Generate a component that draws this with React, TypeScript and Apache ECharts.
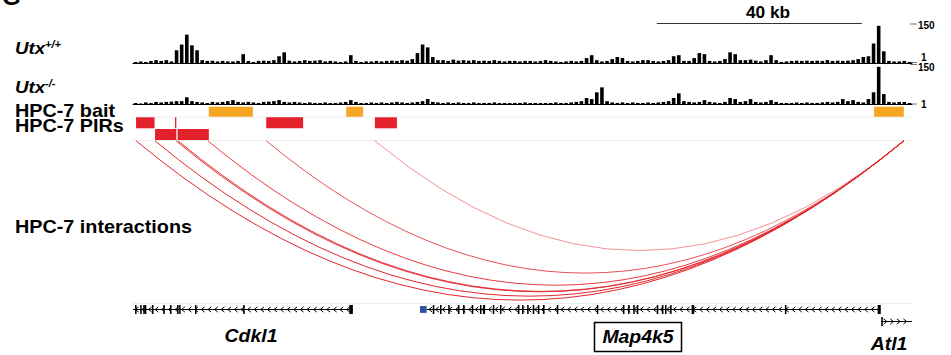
import React, { useEffect, useRef } from "react";
import * as echarts from "echarts";

// ---------- DATA ----------
// ChIP coverage, 1 kb bins across the locus (0 - 152 kb), scale 1..150
const utxWT = [
  4, 6, 4, 8, 11, 8, 11, 6, 49, 71, 109, 68, 49, 11, 8, 9, 6, 8, 6, 6,
  8, 34, 8, 4, 8, 9, 8, 11, 26, 41, 9, 6, 8, 11, 8, 9, 11, 6, 8, 6,
  4, 6, 30, 8, 4, 6, 6, 8, 6, 8, 9, 8, 11, 9, 15, 38, 71, 60, 23, 11,
  11, 8, 13, 9, 11, 9, 11, 8, 9, 8, 11, 8, 6, 8, 8, 6, 8, 8, 6, 8,
  11, 8, 6, 4, 6, 8, 6, 8, 19, 30, 11, 6, 8, 15, 23, 19, 8, 6, 8, 11,
  11, 8, 6, 8, 11, 26, 30, 8, 8, 19, 38, 34, 8, 6, 8, 15, 41, 34, 11, 11,
  13, 9, 6, 11, 30, 11, 4, 6, 8, 9, 8, 9, 8, 9, 8, 11, 8, 9, 8, 9,
  11, 15, 23, 26, 75, 143, 45, 8, 6, 6, 8, 4,
];
const utxKO = [
  4, 2, 6, 4, 8, 6, 8, 9, 11, 11, 26, 11, 8, 6, 4, 8, 6, 8, 11, 15,
  8, 6, 8, 6, 4, 8, 9, 11, 15, 8, 6, 8, 6, 4, 6, 4, 4, 6, 4, 4,
  6, 8, 15, 8, 4, 4, 6, 4, 6, 4, 6, 8, 6, 4, 6, 8, 11, 19, 8, 6,
  4, 6, 4, 6, 4, 4, 6, 4, 4, 4, 6, 4, 4, 4, 4, 4, 6, 4, 4, 4,
  4, 4, 6, 4, 4, 6, 8, 11, 23, 19, 45, 64, 11, 6, 4, 6, 4, 6, 4, 4,
  6, 4, 6, 8, 11, 23, 41, 11, 8, 6, 8, 15, 8, 6, 4, 8, 23, 19, 8, 11,
  19, 8, 6, 8, 15, 8, 4, 4, 4, 6, 4, 6, 4, 4, 6, 8, 6, 8, 19, 11,
  15, 8, 6, 19, 45, 143, 38, 8, 6, 8, 8, 4,
];
const trackLabels = ["Utx", "Utx"];
const trackSup = ["+/+", "-/-"];
const trackTickLabels = ["150", "1"];

// Capture HiC features (kb)
const baitStart = [14.8, 41.6, 144.6];
const baitEnd = [23.4, 44.9, 150.4];
const pirStart = [0.6, 8.2, 26.0, 47.2, 4.3, 8.7];
const pirEnd = [4.2, 8.45, 33.2, 51.5, 8.45, 14.8];
const pirRow = [0, 0, 0, 0, 1, 1];
const interactionStart = [0.6, 4.3, 8.4, 8.8, 14.6, 26.0, 47.2];
const interactionEnd = [150.4, 150.4, 150.4, 150.4, 150.4, 150.4, 150.4];
const interactionScore = [1, 1, 0.95, 0.9, 0.9, 0.8, 0.5];

// Genes (kb)
const geneNames = ["Cdkl1", "Map4k5", "Atl1"];
const geneStart = [0.0, 57.3, 146.0];
const geneEnd = [42.9, 145.9, 152.0];
const geneStrand = [-1, -1, 1];
const geneRow = [0, 0, 1];
const exonPos = [
  0.4, 1.4, 2.0, 2.3, 3.7, 5.9, 7.2, 8.6, 9.0, 12.1, 21.5, 42.2,
  58.5, 59.9, 61.5, 63.4, 64.4, 66.1, 67.7, 68.3, 70.2, 71.6, 75.1, 75.9,
  76.9, 78.0, 79.0, 80.0, 82.7, 90.5, 95.6, 96.6, 97.6, 98.3, 102.2, 103.2,
  103.8, 104.8, 109.0, 127.2, 145.3, 146.0,
];
const exonWidth = [
  0.3, 0.3, 0.3, 0.3, 0.3, 0.3, 0.3, 0.3, 0.3, 0.3, 0.3, 0.7,
  0.3, 0.3, 0.3, 0.3, 0.3, 0.3, 0.3, 0.4, 0.3, 0.3, 0.3, 0.3,
  0.3, 0.3, 0.3, 0.3, 0.3, 0.3, 0.3, 0.3, 0.3, 0.3, 0.3, 0.3,
  0.3, 0.3, 0.5, 0.3, 0.6, 0.3,
];
const exonRow = [
  0, 0, 0, 0, 0, 0, 0, 0, 0, 0, 0, 0,
  0, 0, 0, 0, 0, 0, 0, 0, 0, 0, 0, 0,
  0, 0, 0, 0, 0, 0, 0, 0, 0, 0, 0, 0,
  0, 0, 0, 0, 0, 1,
];
const utrStart = [56.0];
const utrEnd = [57.3];

const scaleBarLabel = "40 kb";
const scaleBarKb = [102.2, 142.2];

// ---------- STYLE ----------
const FONT = "'Liberation Sans', Arial, Helvetica, sans-serif";
const LEFT = 133;
const RIGHT = 951 - 912;
const FEAT_TOP = 105;
const ORANGE = "#F5A623";
const RED = "#E3212A";
const ARC = "#E3262B";
const BLUE = "#2F4E9E";

const rowY = { bait: [1.7, 11.7], pir: [[12.3, 23.3], [24, 35]] };
const arcY = 35.8;
const geneY = [204.5, 216.5];

export default function App() {
  const ref = useRef<HTMLDivElement>(null);

  useEffect(() => {
    if (!ref.current) return;
    const chart = echarts.init(ref.current, null, { renderer: "svg", width: 951, height: 355 });
    const binCats = utxWT.map((_, i) => String(i));

    const trackAxisX = (gi: number) => ({
      gridIndex: gi,
      type: "category",
      data: binCats,
      boundaryGap: true,
      axisLine: { show: true, onZero: false, lineStyle: { color: "#000", width: 1 } },
      axisTick: { show: false },
      axisLabel: { show: false },
      splitLine: { show: false },
    });

    const option: any = {
      animation: false,
      backgroundColor: "#fff",
      grid: [
        { left: LEFT, right: RIGHT, top: 24, height: 39 },
        { left: LEFT, right: RIGHT, top: 65, height: 39 },
        { left: LEFT, right: RIGHT, top: FEAT_TOP, height: 250 },
      ],
      xAxis: [
        trackAxisX(0),
        trackAxisX(1),
        { gridIndex: 2, type: "value", min: 0, max: 152, show: false },
      ],
      yAxis: [
        { gridIndex: 0, type: "value", min: 0, max: 150, show: false },
        { gridIndex: 1, type: "value", min: 0, max: 150, show: false },
        { gridIndex: 2, type: "value", min: 0, max: 250, inverse: true, show: false },
      ],
      series: [
        {
          type: "bar", xAxisIndex: 0, yAxisIndex: 0, data: utxWT,
          barCategoryGap: "30%", itemStyle: { color: "#000" }, silent: true,
        },
        {
          type: "bar", xAxisIndex: 1, yAxisIndex: 1, data: utxKO,
          barCategoryGap: "30%", itemStyle: { color: "#000" }, silent: true,
        },
        // baits
        {
          type: "custom", xAxisIndex: 2, yAxisIndex: 2, silent: true,
          data: baitStart.map((s, i) => [s, baitEnd[i]]),
          renderItem: (_p: any, api: any) => {
            const a = api.coord([api.value(0), rowY.bait[0]]);
            const b = api.coord([api.value(1), rowY.bait[1]]);
            return { type: "rect", shape: { x: a[0], y: a[1], width: b[0] - a[0], height: b[1] - a[1] }, style: { fill: ORANGE } };
          },
        },
        // PIRs
        {
          type: "custom", xAxisIndex: 2, yAxisIndex: 2, silent: true,
          data: pirStart.map((s, i) => [s, pirEnd[i], pirRow[i]]),
          renderItem: (_p: any, api: any) => {
            const r = rowY.pir[api.value(2)];
            const a = api.coord([api.value(0), r[0]]);
            const b = api.coord([api.value(1), r[1]]);
            return { type: "rect", shape: { x: a[0], y: a[1], width: Math.max(1, b[0] - a[0]), height: b[1] - a[1] }, style: { fill: RED } };
          },
        },
        // interactions
        {
          type: "lines", coordinateSystem: "cartesian2d", xAxisIndex: 2, yAxisIndex: 2, silent: true,
          data: interactionStart.map((s, i) => ({
            coords: [[interactionEnd[i], arcY], [s, arcY]],
            lineStyle: { opacity: interactionScore[i] },
          })),
          lineStyle: { color: ARC, width: 1, curveness: 0.415 },
        },
        // gene bodies with strand chevrons
        {
          type: "custom", xAxisIndex: 2, yAxisIndex: 2, silent: true,
          data: geneStart.map((s, i) => [s, geneEnd[i], geneStrand[i], geneRow[i]]),
          renderItem: (_p: any, api: any) => {
            const y = geneY[api.value(3)];
            const a = api.coord([api.value(0), y]);
            const b = api.coord([api.value(1), y]);
            const strand = api.value(2);
            const children: any[] = [
              { type: "line", shape: { x1: a[0], y1: a[1], x2: b[0], y2: b[1] }, style: { stroke: "#000", lineWidth: 1 } },
            ];
            for (let x = a[0] + 4; x < b[0] - 2; x += 6.6) {
              const d = 1.6 * strand;
              children.push({
                type: "polyline",
                shape: { points: [[x - d, a[1] - 2.6], [x + d, a[1]], [x - d, a[1] + 2.6]] },
                style: { stroke: "#000", lineWidth: 1, fill: "none" },
              });
            }
            return { type: "group", children };
          },
        },
        // exons
        {
          type: "custom", xAxisIndex: 2, yAxisIndex: 2, silent: true,
          data: exonPos.map((p, i) => [p, exonWidth[i], exonRow[i]]),
          renderItem: (_p: any, api: any) => {
            const y = geneY[api.value(2)];
            const a = api.coord([api.value(0), y]);
            const b = api.coord([api.value(0) + api.value(1), y]);
            const h = 9;
            return { type: "rect", shape: { x: a[0], y: a[1] - h / 2, width: Math.max(1.4, b[0] - a[0]), height: h }, style: { fill: "#000" } };
          },
        },
        // UTR (blue)
        {
          type: "custom", xAxisIndex: 2, yAxisIndex: 2, silent: true,
          data: utrStart.map((s, i) => [s, utrEnd[i], 0]),
          renderItem: (_p: any, api: any) => {
            const y = geneY[api.value(2)];
            const a = api.coord([api.value(0), y]);
            const b = api.coord([api.value(1), y]);
            return { type: "rect", shape: { x: a[0], y: a[1] - 3.4, width: b[0] - a[0], height: 6.8 }, style: { fill: BLUE } };
          },
        },
      ],
      graphic: [],
    };

    chart.setOption(option);

    // annotations positioned through the chart's own scales
    const px = (kb: number) => chart.convertToPixel({ gridIndex: 2 }, [kb, 0])[0];
    const g: any[] = [];
    const lab = (text: string, x: number, y: number, size: number, extra: any = {}, sx = 1) => ({
      type: "text", x, y, silent: true, scaleX: sx,
      style: { text, fill: "#000", font: `bold ${size}px ${FONT}`, verticalAlign: "middle", align: "left", ...extra },
    });
    // panel letter (clipped in the original figure)
    g.push(lab("G", 2, -4, 24));
    // scale bar
    g.push({ type: "line", shape: { x1: px(scaleBarKb[0]), y1: 23.5, x2: px(scaleBarKb[1]), y2: 23.5 }, style: { stroke: "#333", lineWidth: 1 } });
    g.push(lab(scaleBarLabel, 768, 13, 16, { align: "center" }, 1.08));
    // track labels
    [48, 87.5].forEach((y, i) => {
      g.push({
        type: "text", x: 15, y, silent: true, scaleX: 1.1,
        style: {
          text: `{a|${trackLabels[i]}}{b|${trackSup[i]}}`,
          verticalAlign: "middle",
          rich: {
            a: { font: `italic bold 17px ${FONT}`, fill: "#000" },
            b: { font: `italic bold 10px ${FONT}`, fill: "#000", verticalAlign: "top", padding: [0, 0, 8, 0] },
          },
        },
      });
    });
    g.push(lab("HPC-7 bait", 15, 111, 18, { lineHeight: 14 }, 1.1));
    g.push(lab("HPC-7 PIRs", 15, 125.5, 18, { lineHeight: 14 }, 1.1));
    g.push(lab("HPC-7 interactions", 15, 227, 18, {}, 1.1));
    // right scale ticks
    const tickX1 = 910, tickX2 = 917;
    [[24, 25, 0], [62.5, 57, 1], [64.5, 67.5, 0], [104, 104.5, 1]].forEach(([ty, ly, li]) => {
      g.push({ type: "line", shape: { x1: tickX1, y1: ty, x2: tickX2, y2: ty }, style: { stroke: "#777", lineWidth: 1 } });
      g.push(lab(trackTickLabels[li], li === 1 ? 921 : 918, ly, 10, { lineHeight: 9 }));
    });
    // faint separators
    [117, 140.5, 303.5].forEach((y) => {
      g.push({ type: "line", shape: { x1: LEFT, y1: y, x2: 913, y2: y }, style: { stroke: "#ececec", lineWidth: 1 } });
    });
    // gene names
    const gf = { align: "center", font: `italic bold 18px ${FONT}` };
    g.push(lab(geneNames[0], 251, 335.5, 18, gf, 1.08));
    g.push({ type: "rect", shape: { x: 594.5, y: 322.5, width: 87, height: 29 }, style: { fill: "none", stroke: "#000", lineWidth: 1.5 } });
    g.push(lab(geneNames[1], 638, 337, 18, gf, 1.08));
    g.push(lab(geneNames[2], 889, 344, 18, gf, 1.08));

    chart.setOption({ graphic: g });

    return () => chart.dispose();
  }, []);

  return <div ref={ref} style={{ position: "absolute", left: 0, top: 0, width: 951, height: 355 }} />;
}
